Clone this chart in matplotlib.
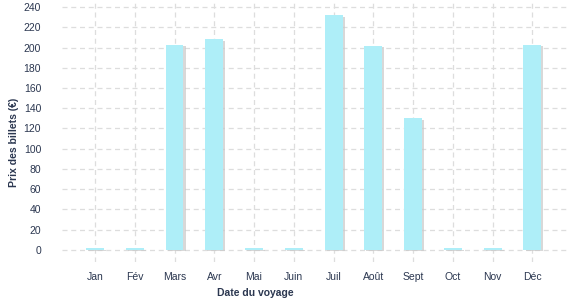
import matplotlib
matplotlib.use("Agg")
import matplotlib.pyplot as plt
import matplotlib.patheffects as pe

months = ["Jan", "Fév", "Mars", "Avr", "Mai", "Juin", "Juil", "Août", "Sept", "Oct", "Nov", "Déc"]
prices = [1.5, 1.5, 203, 208, 1.5, 1.5, 232, 202, 130, 1.5, 1.5, 203]
yticks = [0, 20, 40, 60, 80, 100, 120, 140, 160, 180, 200, 220, 240]

txt = "#2b3750"
plt.rcParams['font.family'] = ['Liberation Sans', 'DejaVu Sans']

fig = plt.figure(figsize=(5.77, 3.0), dpi=100)
ax = fig.add_axes([62/577, 1 - 262/300, (567-62)/577, 262/300])

x = list(range(len(months)))
bars = ax.bar(x, prices, width=0.45, color="#aeeef8", zorder=3)
for b in bars:
    b.set_path_effects([pe.SimplePatchShadow(offset=(1.5, -1.0), shadow_rgbFace="#c8c8c8", alpha=0.7), pe.Normal()])

ax.set_xlim(-0.83, 11.87)
ax.set_ylim(-12, 247)
ax.set_yticks(yticks)
ax.set_xticks(x)
ax.set_xticklabels(months)
ax.grid(True, color="#dddddd", linestyle=(0, (4, 3)), linewidth=0.9, zorder=0)
ax.set_axisbelow(True)
for s in ax.spines.values():
    s.set_visible(False)
ax.tick_params(axis='both', length=0, labelsize=7.5, colors=txt)
ax.tick_params(axis='y', pad=15)
ax.tick_params(axis='x', pad=7)
ax.set_xlabel("Date du voyage", fontsize=7.5, fontweight='bold', color=txt, va='center')
ax.set_ylabel("Prix des billets (€)", fontsize=7.5, fontweight='bold', color=txt, va='center')
ax.xaxis.set_label_coords(0.382, -0.118)
ax.yaxis.set_label_coords(-0.095, 0.458)

fig.savefig("out.png", dpi=100)
